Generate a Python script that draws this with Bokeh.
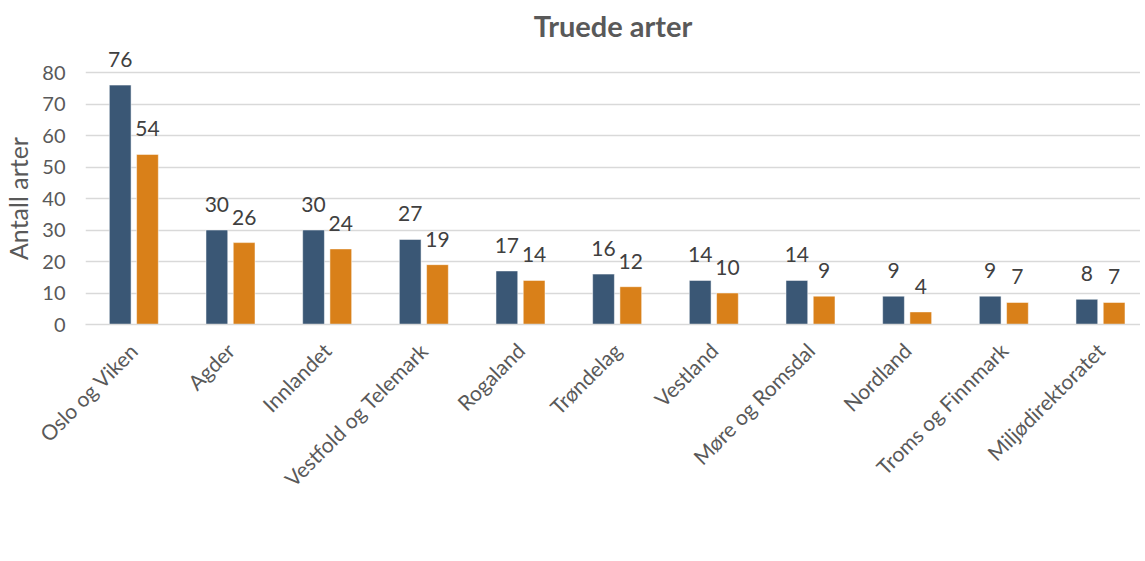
from bokeh.plotting import figure
from bokeh.models import Range1d, FixedTicker, Legend, LegendItem, ColumnDataSource
from bokeh.transform import dodge
from bokeh.core.properties import value
from bokeh.embed import file_html
from bokeh.resources import INLINE
import math

categories = ["Oslo og Viken", "Agder", "Innlandet", "Vestfold og Telemark", "Rogaland",
              "Trøndelag", "Vestland", "Møre og Romsdal", "Nordland", "Troms og Finnmark",
              "Miljødirektoratet"]
omsokte = [76, 30, 30, 27, 17, 16, 14, 14, 9, 9, 8]
innvilgede = [54, 26, 24, 19, 14, 12, 10, 9, 4, 7, 7]
y_ticks = [0, 10, 20, 30, 40, 50, 60, 70, 80]
series_names = ["Omsøkte arter", "Innvilgede arter"]

FONT = "Lato"
BLUE = "#3A5775"
ORANGE = "#D98019"
TXT = "#595959"

idx = list(range(len(categories)))
src = ColumnDataSource(dict(
    idx=idx,
    oms=omsokte,
    inn=innvilgede,
    oms_s=[str(v) for v in omsokte],
    inn_s=[str(v) for v in innvilgede],
))

p = figure(frame_width=1055, frame_height=277, output_backend="svg", toolbar_location=None,
           x_range=Range1d(-0.5, 10.414), y_range=Range1d(0, 87.94),
           min_border_left=82, min_border_right=0, min_border_top=40, min_border_bottom=0)

p.title.text = "Truede arter"
p.title.align = "center"
p.title.text_font = FONT
p.title.text_font_size = "29px"
p.title.text_font_style = "bold"
p.title.text_color = TXT
p.title.standoff = 10

p.outline_line_color = None
p.background_fill_color = "white"
p.border_fill_color = "white"

r1 = p.vbar(x=dodge("idx", -0.141, range=p.x_range), top="oms", width=0.225, source=src,
            fill_color=BLUE, line_color="white", line_width=0.5)
r2 = p.vbar(x=dodge("idx", 0.141, range=p.x_range), top="inn", width=0.225, source=src,
            fill_color=ORANGE, line_color="white", line_width=0.5)

for col, off in (("oms", -0.141), ("inn", 0.141)):
    p.text(x=dodge("idx", off, range=p.x_range), y=col, text=col + "_s", source=src,
           text_font=value(FONT), text_font_size="21px", text_color="#404040",
           text_align="center", text_baseline="bottom", y_offset=-18)

# axes
p.xaxis.ticker = FixedTicker(ticks=idx)
p.xaxis.major_label_overrides = {i: c for i, c in enumerate(categories)}
p.xaxis.major_label_orientation = math.pi / 4
p.xaxis.major_label_text_font = FONT
p.xaxis.major_label_text_font_size = "21px"
p.xaxis.major_label_text_color = TXT
p.xaxis.major_tick_line_color = None
p.xaxis.minor_tick_line_color = None
p.xaxis.axis_line_color = "#D9D9D9"
p.xaxis.axis_line_width = 1.5
p.xaxis.major_label_standoff = 16
# small invisible spacer label between the category labels and the legend
p.xaxis.axis_label = "\u00a0"
p.xaxis.axis_label_text_font_size = "10px"
p.xaxis.axis_label_standoff = 4

p.yaxis.ticker = FixedTicker(ticks=y_ticks)
p.yaxis.major_label_text_font = FONT
p.yaxis.major_label_text_font_size = "20px"
p.yaxis.major_label_text_color = TXT
p.yaxis.major_tick_line_color = None
p.yaxis.minor_tick_line_color = None
p.yaxis.axis_line_color = None
p.yaxis.axis_label = "Antall arter\u00a0\u00a0\u00a0\u00a0"
p.yaxis.axis_label_text_font = FONT
p.yaxis.axis_label_text_font_size = "25px"
p.yaxis.axis_label_text_font_style = "normal"
p.yaxis.axis_label_text_color = TXT
p.yaxis.major_label_standoff = 14
p.yaxis.axis_label_standoff = 6

p.xgrid.grid_line_color = None
p.ygrid.ticker = FixedTicker(ticks=y_ticks)
p.ygrid.grid_line_color = "#D9D9D9"
p.ygrid.grid_line_width = 1.5

legend = Legend(items=[LegendItem(label=series_names[0], renderers=[r1]),
                       LegendItem(label=series_names[1], renderers=[r2])],
                orientation="horizontal", location="center",
                glyph_width=12, glyph_height=12, label_text_font=FONT,
                label_text_font_size="22px", label_text_color=TXT,
                padding=0, margin=0, spacing=30, label_standoff=6,
                border_line_color=None, background_fill_alpha=0)
p.add_layout(legend, "below")

open("out.html", "w").write(file_html(p, INLINE))
